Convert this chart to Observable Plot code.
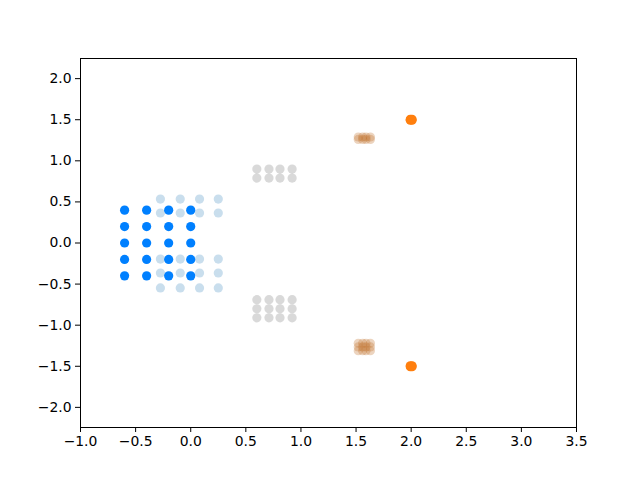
<!DOCTYPE html>
<html>
<head>
<meta charset="utf-8">
<script src="https://cdn.jsdelivr.net/npm/d3@7"></script>
<script src="https://cdn.jsdelivr.net/npm/@observablehq/plot@0.6"></script>
<style>
  html, body { margin: 0; padding: 0; background: #fff; }
</style>
</head>
<body>
<div id="chart"></div>
<script>
// Tick values
const xTicks = [-1.0, -0.5, 0.0, 0.5, 1.0, 1.5, 2.0, 2.5, 3.0, 3.5];
const yTicks = [-2.0, -1.5, -1.0, -0.5, 0.0, 0.5, 1.0, 1.5, 2.0];

// Bright blue grid
const blueX = [-0.6, -0.4, -0.2, 0.0];
const blueY = [0.4, 0.2, 0.0, -0.2, -0.4];

// Faded blue points
const lightX = [-0.275, -0.095, 0.08, 0.25];
const lightY = [0.535, 0.365, -0.195, -0.365, -0.547];

// Gray points
const grayX = [0.6, 0.71, 0.81, 0.92];
const grayY = [0.9, 0.79, -0.69, -0.8, -0.91];

// Tan points
const tanX = [1.52, 1.56, 1.59, 1.63];
const tanY = [1.26, 1.29, -1.22, -1.265, -1.31];

// Orange points (tight clusters at (2, ±1.5))
const orangeX = [1.992, 2.008, 1.992, 2.008, 1.992, 2.008, 1.992, 2.008];
const orangeY = [1.506, 1.506, 1.494, 1.494, -1.494, -1.494, -1.506, -1.506];

const grid = (xs, ys) => d3.cross(xs, ys).map(([x, y]) => ({x, y}));
const blue = grid(blueX, blueY);
const light = grid(lightX, lightY);
const gray = grid(grayX, grayY);
const tan = grid(tanX, tanY);
const orange = orangeX.map((x, i) => ({x, y: orangeY[i]}));

const fmt = d3.format(".1f");

const chart = Plot.plot({
  width: 640,
  height: 480,
  marginLeft: 80,
  marginRight: 64,
  marginTop: 58,
  marginBottom: 53,
  style: {fontFamily: "DejaVu Sans", fontSize: "13.9px", color: "#000", background: "#fff"},
  x: {domain: [-1.0, 3.5], ticks: xTicks, tickFormat: fmt, tickSize: 5, tickPadding: 4, label: null},
  y: {domain: [-2.245, 2.245], ticks: yTicks, tickFormat: fmt, tickSize: 5, tickPadding: 4, label: null},
  marks: [
    Plot.dot(light, {x: "x", y: "y", r: 4.6, fill: "#1f77b4", fillOpacity: 0.24, stroke: "none"}),
    Plot.dot(blue, {x: "x", y: "y", r: 4.6, fill: "#0080ff", stroke: "none"}),
    Plot.dot(gray, {x: "x", y: "y", r: 4.6, fill: "#808080", fillOpacity: 0.3, stroke: "none"}),
    Plot.dot(tan, {x: "x", y: "y", r: 4.6, fill: "#c0702a", fillOpacity: 0.3, stroke: "none"}),
    Plot.dot(orange, {x: "x", y: "y", r: 4.6, fill: "#ff7f0e", stroke: "none"}),
    Plot.frame({stroke: "#000", strokeWidth: 1})
  ]
});
document.getElementById("chart").appendChild(chart);
</script>
</body>
</html>
